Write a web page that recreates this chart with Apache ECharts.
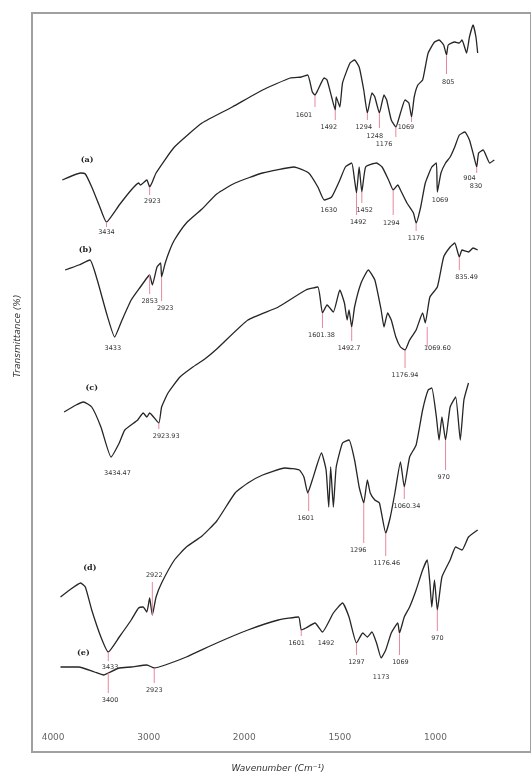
<!DOCTYPE html>
<html><head><meta charset="utf-8">
<script src="https://cdn.jsdelivr.net/npm/echarts@6/dist/echarts.min.js"></script>
<style>html,body{margin:0;padding:0;background:#fff}#c{width:531px;height:776px}</style>
</head><body><div id="c"></div>
<script>
// FTIR spectra (wavenumber cm-1, stacked transmittance a.u.)
const curveA = [[3904,114.4],[3712,115.8],[3663,115.6],[3596,113.0],[3519,109.4],[3442,106.0],[3308,109.4],[3183,112.4],[3106,113.8],[3087,113.4],[3019,114.4],[2990,113.0],[2962,114.0],[2923,115.8],[2731,121.0],[2442,125.8],[2125,129.0],[1904,132.4],[1760,134.8],[1702,135.0],[1668,135.4],[1644,132.0],[1630,131.4],[1615,132.4],[1582,134.8],[1567,134.4],[1543,131.0],[1524,128.4],[1519,131.0],[1500,129.0],[1486,133.8],[1447,137.8],[1423,138.4],[1399,137.0],[1375,132.4],[1356,127.8],[1332,131.8],[1317,131.0],[1293,127.8],[1269,131.4],[1255,130.4],[1231,126.4],[1207,125.0],[1183,127.8],[1159,130.4],[1139,129.8],[1125,127.0],[1111,131.0],[1092,133.4],[1067,134.4],[1053,137.0],[1038,139.8],[1005,142.0],[981,142.4],[957,141.4],[942,139.4],[933,141.4],[899,142.0],[875,141.8],[861,142.4],[837,139.8],[822,143.0],[803,145.4],[788,143.0],[779,139.8]];
const curveB = [[3875,96.4],[3731,97.4],[3615,98.4],[3538,94.4],[3442,87.8],[3356,83.0],[3279,86.4],[3183,90.4],[3087,93.0],[3019,94.8],[2990,95.4],[2962,93.4],[2913,97.0],[2875,97.8],[2865,95.0],[2827,97.8],[2779,100.4],[2731,102.4],[2606,105.8],[2442,108.6],[2288,111.6],[2096,113.8],[1904,115.8],[1740,117.0],[1663,115.8],[1615,113.0],[1582,110.4],[1543,111.0],[1500,114.4],[1471,117.0],[1438,117.8],[1423,114.4],[1413,111.8],[1399,117.0],[1385,112.0],[1365,117.0],[1308,117.8],[1279,117.0],[1245,114.4],[1221,112.4],[1197,113.4],[1183,112.4],[1149,109.8],[1115,107.8],[1101,105.8],[1077,109.0],[1053,113.8],[1019,117.0],[995,117.8],[990,112.0],[971,115.8],[947,117.8],[923,119.0],[899,121.0],[875,123.4],[846,124.0],[822,122.4],[798,119.0],[784,117.0],[774,119.8],[750,120.4],[716,117.8],[692,118.4]];
const curveC = [[3885,68.0],[3760,69.4],[3683,70.0],[3596,69.0],[3500,65.0],[3394,59.0],[3308,61.8],[3250,64.4],[3115,66.4],[3058,67.8],[3019,67.0],[2990,67.8],[2894,65.8],[2865,69.0],[2798,71.8],[2673,75.0],[2538,77.0],[2413,78.6],[2288,80.6],[1981,86.4],[1822,89.0],[1678,92.4],[1615,93.0],[1591,87.8],[1567,89.4],[1534,88.0],[1500,92.4],[1476,89.8],[1462,86.4],[1452,88.4],[1438,85.0],[1423,89.0],[1389,93.8],[1351,96.4],[1317,94.4],[1284,88.4],[1269,85.0],[1250,87.8],[1231,86.4],[1207,83.0],[1183,81.0],[1159,80.4],[1135,82.4],[1101,84.4],[1067,87.8],[1053,85.8],[1029,91.0],[990,93.0],[957,99.0],[923,101.0],[899,101.8],[875,99.0],[861,100.4],[827,100.0],[803,100.8],[779,100.4]];
const curveD = [[3923,31.0],[3827,32.4],[3712,33.8],[3663,33.0],[3596,28.4],[3500,23.0],[3423,20.0],[3308,23.0],[3183,26.4],[3106,28.8],[3058,29.0],[3019,28.0],[2990,30.8],[2962,27.4],[2923,31.0],[2865,33.8],[2731,38.4],[2606,41.0],[2442,43.2],[2288,46.2],[2096,51.8],[1981,53.8],[1904,55.4],[1788,56.8],[1712,56.4],[1688,55.0],[1668,51.8],[1644,54.4],[1596,59.8],[1572,56.4],[1558,49.0],[1548,57.0],[1534,49.0],[1519,57.0],[1486,61.8],[1452,62.4],[1423,58.4],[1399,53.0],[1375,49.8],[1356,54.4],[1341,51.8],[1317,50.4],[1293,49.8],[1260,43.8],[1236,47.0],[1212,51.8],[1183,58.0],[1163,53.0],[1135,59.0],[1101,61.4],[1067,68.4],[1038,72.4],[1019,72.8],[995,67.0],[981,62.4],[966,67.0],[947,62.4],[923,69.0],[894,71.0],[870,62.4],[851,70.4],[827,73.8]];
const curveE = [[3923,17.0],[3731,17.0],[3567,16.0],[3471,15.4],[3423,15.8],[3308,16.8],[3183,17.0],[3019,17.4],[2942,16.8],[2827,17.4],[2606,19.0],[2288,21.8],[1981,24.4],[1822,26.4],[1716,27.0],[1702,24.4],[1678,24.8],[1630,25.8],[1591,24.0],[1534,27.8],[1486,29.8],[1452,27.0],[1413,21.8],[1380,23.8],[1356,23.0],[1332,24.0],[1308,21.8],[1284,18.8],[1260,20.4],[1231,23.8],[1197,25.8],[1188,23.8],[1163,27.0],[1135,29.0],[1101,32.4],[1067,36.4],[1043,38.4],[1029,33.8],[1019,29.0],[1005,34.4],[990,28.4],[966,35.0],[923,38.4],[894,41.0],[861,40.4],[827,43.0],[779,44.4]];

// peak annotations: [line wavenumber, line from, line to, text wavenumber, text level, text]
const peaksA = [[3442,106.0,105.0,3442,104.0,'3434'],[2990,113.0,111.4,2962,110.2,'2923'],[1630,131.4,129.0,1688,127.4,'1601'],[1524,128.4,126.4,1558,125.0,'1492'],[1356,127.8,126.4,1375,125.0,'1294'],[1293,127.8,124.8,1317,123.2,'1248'],[1207,125.0,123.0,1269,121.6,'1176'],[1125,127.0,126.0,1154,125.0,'1069'],[942,139.4,135.6,933,134.0,'805']];
const peaksB = [[null,0,0,3375,80.8,'3433'],[2990,95.4,91.6,2990,90.2,'2853'],[2865,95.0,90.2,2827,88.8,'2923'],[null,0,0,1558,108.4,'1630'],[1385,112.0,109.8,1370,108.4,'1452'],[1413,111.8,107.4,1404,106.0,'1492'],[1221,112.4,107.4,1231,105.8,'1294'],[1101,105.8,104.2,1101,102.8,'1176'],[null,0,0,976,110.4,'1069'],[784,117.0,115.8,822,114.8,'904'],[null,0,0,788,113.2,'830']];
const peaksC = [[null,0,0,3327,55.8,'3434.47'],[2894,65.8,64.6,2817,63.2,'2923.93'],[1591,87.8,84.8,1596,83.4,'1601.38'],[1438,85.0,82.2,1452,80.8,'1492.7'],[1159,80.4,76.8,1159,75.4,'1176.94'],[1043,85.0,81.0,990,80.8,'1069.60'],[875,99.0,96.4,837,95.0,'835.49']];
const peaksD = [[3423,20.0,18.2,3404,17.0,'3433'],[2962,27.4,34.0,2942,35.4,'2922'],[1663,51.8,48.2,1678,46.8,'1601'],[1375,49.8,41.8,1404,40.4,'1296'],[1260,43.8,39.2,1255,37.8,'1176.46'],[1163,53.0,50.6,1149,49.2,'1060.34'],[947,62.4,56.4,957,55.0,'970']];
const peaksE = [[3423,15.8,11.8,3404,10.4,'3400'],[2942,16.8,13.8,2942,12.4,'2923'],[1702,24.4,23.2,1726,21.8,'1601'],[null,0,0,1572,21.8,'1492'],[1413,21.8,19.4,1413,18.0,'1297'],[null,0,0,1284,15.0,'1173'],[1188,23.8,19.4,1183,18.0,'1069'],[990,28.4,24.2,990,22.8,'970']];
const curveTags = [[3644,118.4,'(a)'],[3663,100.4,'(b)'],[3596,72.8,'(c)'],[3615,36.8,'(d)'],[3683,19.8,'(e)']];
const tickWaves = [4000,3000,2000,1500,1000];

// split scale: 4000-2000 compressed, below 2000 expanded x2
function toU(w){ return w >= 2000 ? (4000 - w) / 1000 : 2 + (2000 - w) / 500; }
function fromU(u){ return u <= 2 ? 4000 - 1000 * u : 2000 - 500 * (u - 2); }

const chart = echarts.init(document.getElementById('c'), null, {renderer:'canvas'});
const curves = [curveA, curveB, curveC, curveD, curveE];
const allPeaks = [].concat(peaksA, peaksB, peaksC, peaksD, peaksE);

const series = curves.map(c => ({
  type:'line', data:c.map(p => [toU(p[0]), p[1]]), showSymbol:false, symbol:'none',
  lineStyle:{color:'#262626', width:1.3}, smooth:0.15, silent:true, z:3
}));
series.push({
  type:'custom', silent:true, z:4, clip:false,
  data: allPeaks.map(a => [toU(a[3]), a[4]]),
  renderItem:function(params, api){
    const a = allPeaks[params.dataIndex];
    const kids = [];
    if (a[0] !== null) {
      const p1 = api.coord([toU(a[0]), a[1]]), p2 = api.coord([toU(a[0]), a[2]]);
      kids.push({type:'line', shape:{x1:p1[0], y1:p1[1], x2:p2[0], y2:p2[1]}, style:{stroke:'#e8889a', lineWidth:1}});
    }
    const pt = api.coord([toU(a[3]), a[4]]);
    kids.push({type:'text', x:pt[0], y:pt[1], style:{text:a[5], fill:'#333', font:'6.5px "DejaVu Sans", sans-serif', align:'center', verticalAlign:'middle'}});
    return {type:'group', children:kids};
  }
});
series.push({
  type:'custom', silent:true, z:4, clip:false,
  data: curveTags.map(t => [toU(t[0]), t[1]]),
  renderItem:function(params, api){
    const t = curveTags[params.dataIndex];
    const pt = api.coord([toU(t[0]), t[1]]);
    return {type:'text', x:pt[0], y:pt[1], style:{text:t[2], fill:'#222', font:'bold 8px "DejaVu Serif", serif', align:'center', verticalAlign:'middle'}};
  }
});

chart.setOption({
  animation:false,
  backgroundColor:'#fff',
  grid:{left:32, top:13, width:543, height:739, show:true, borderColor:'#a0a0a0', borderWidth:2, backgroundColor:'transparent'},
  xAxis:{type:'value', min:-0.221, max:5.0,
    axisLine:{show:false}, axisTick:{show:false}, splitLine:{show:false},
    axisLabel:{inside:true, margin:10, color:'#666', fontSize:9, fontFamily:'"DejaVu Sans", sans-serif',
      customValues: tickWaves.map(toU),
      formatter: v => String(Math.round(fromU(v)))}},
  yAxis:{type:'value', min:0, max:147.8, show:false},
  graphic:[
    {type:'text', x:278, y:769, style:{text:'Wavenumber (Cm\u207B\u00B9)', fill:'#333', font:'italic 9px "DejaVu Sans", sans-serif', align:'center', verticalAlign:'middle'}},
    {type:'text', x:18, y:336, rotation:Math.PI/2, style:{text:'Transmittance (%)', fill:'#333', font:'italic 9px "DejaVu Sans", sans-serif', align:'center', verticalAlign:'middle'}}
  ],
  series:series
});
</script></body></html>
